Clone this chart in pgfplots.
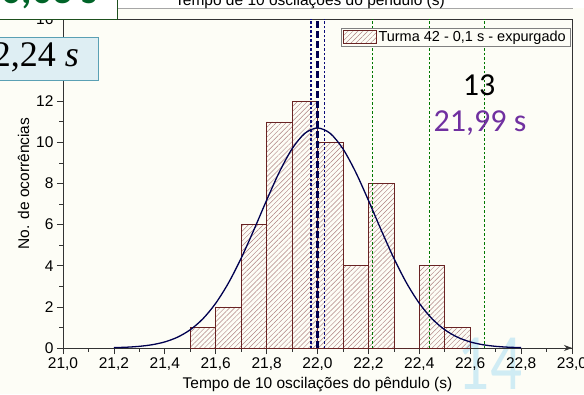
\documentclass[border=0pt]{standalone}
\usepackage{pgfplots}
\pgfplotsset{compat=1.18}
\usepackage{fontspec}
\setmainfont{Liberation Sans}
\newfontfamily\calibri{Carlito}
\newfontfamily\serifit{Liberation Serif}
\usetikzlibrary{patterns.meta,arrows.meta,backgrounds}
\definecolor{bg}{RGB}{253,253,246}
\definecolor{baredge}{RGB}{105,35,35}
\definecolor{hatch}{RGB}{175,130,130}
\definecolor{navy}{RGB}{0,0,80}
\definecolor{mblue}{RGB}{10,10,120}
\definecolor{dgreen}{RGB}{0,120,0}
\definecolor{purp}{RGB}{112,48,160}
\definecolor{boxblue}{RGB}{222,238,243}
\definecolor{boxedge}{RGB}{90,160,180}
\definecolor{ghost}{RGB}{208,236,244}
\definecolor{boxgreen}{RGB}{30,80,30}
\definecolor{txtgreen}{RGB}{0,100,40}
\begin{document}
\begin{tikzpicture}[x=1pt,y=1pt]
\begin{axis}[
  scale only axis, width=509pt, height=329pt,
  xmin=21, xmax=23, ymin=0, ymax=16, clip=false,
  xtick={21,21.2,21.4,21.6,21.8,22,22.2,22.4,22.6,22.8,23},
  minor x tick num=1,
  ytick={0,2,4,6,8,10,12,14,16},
  minor y tick num=1,
  tick align=outside, tick pos=left,
  major tick length=6pt, minor tick length=3.5pt,
  xticklabel style={/pgf/number format/.cd, use comma, fixed, fixed zerofill, precision=1},
  /pgf/number format/assume math mode=true,
  ticklabel style={font=\fontsize{15.5}{16}\selectfont},
  label style={font=\fontsize{15.5}{16}\selectfont},
  xlabel={Tempo de 10 oscilações do pêndulo (s)},
  ylabel={No. de ocorrências},
  axis line style={black!80, line width=0.7pt},
  every tick/.style={black!80, line width=0.7pt},
  legend style={at={(0.996,0.9726)}, anchor=north east, draw=gray, fill=bg,
    font=\fontsize{14.5}{16}\selectfont, inner xsep=2pt, inner ysep=1pt},
  legend cell align=left,
]
\coordinate (O) at (rel axis cs:0,0);
\addplot[ybar interval, draw=baredge, line width=0.6pt,
  pattern={Lines[angle=45,distance=3.5pt,line width=0.45pt]}, pattern color=hatch,
  legend image code/.code={\draw[draw=baredge, line width=0.6pt, pattern={Lines[angle=45,distance=3.5pt,line width=0.45pt]}, pattern color=hatch] (0pt,-6.5pt) rectangle (33pt,6.5pt);}]
  coordinates {(21.5,1) (21.6,2) (21.7,6) (21.8,11) (21.9,12) (22.0,10) (22.1,4) (22.2,8) (22.3,0) (22.4,4) (22.5,1) (22.6,1)};
\addlegendentry{Turma 42 - 0,1 s - expurgado}
\addplot[forget plot, draw=dgreen, line width=1pt, dash pattern=on 2.5pt off 2pt] coordinates {(22.215,0) (22.215,16)};
\addplot[forget plot, draw=dgreen, line width=1pt, dash pattern=on 2.5pt off 2pt] coordinates {(22.442,0) (22.442,16)};
\addplot[forget plot, draw=dgreen, line width=1pt, dash pattern=on 2.5pt off 2pt] coordinates {(22.658,0) (22.658,16)};
\addplot[forget plot, draw=mblue, line width=1.3pt, dash pattern=on 2.5pt off 2pt] coordinates {(21.975,0) (21.975,16)};
\addplot[forget plot, draw=mblue, line width=1.3pt, dash pattern=on 2.5pt off 2pt] coordinates {(22.027,0) (22.027,16)};
\addplot[forget plot, draw=navy, line width=2.6pt, dash pattern=on 7pt off 3pt] coordinates {(22.0,0) (22.0,16)};
\addplot[forget plot, draw=navy, line width=1.3pt, smooth] coordinates {
(21.2,0.018) (21.25,0.039) (21.3,0.081) (21.35,0.159) (21.4,0.296) (21.45,0.526)
(21.5,0.887) (21.55,1.424) (21.6,2.174) (21.65,3.159) (21.7,4.366) (21.75,5.742)
(21.8,7.184) (21.85,8.553) (21.9,9.686) (21.95,10.437) (22.0,10.7) (22.05,10.437)
(22.1,9.686) (22.15,8.553) (22.2,7.184) (22.25,5.742) (22.3,4.366) (22.35,3.159)
(22.4,2.174) (22.45,1.424) (22.5,0.887) (22.55,0.526) (22.6,0.296) (22.65,0.159)
(22.7,0.081) (22.75,0.039) (22.8,0.018)};
\draw[black!80, line width=0.7pt, -{Stealth[length=8pt,width=6pt]}] (axis cs:22.9,0) -- (axis cs:23.0,0);
\end{axis}
\begin{scope}[shift={(O)}]
\begin{scope}[shift={(-63,-46)}]
\begin{scope}[on background layer]
\fill[bg] (0,0) rectangle (584,394);
\fill[white] (117,386) rectangle (584,394);
\node[font=\calibri\fontsize{80}{80}\selectfont, text=ghost, anchor=north, inner sep=0, xscale=0.79] at (490,56) {14};
\end{scope}
\draw[gray!70, line width=0.6pt] (117,386) -- (573,386);
\node[anchor=base, font=\fontsize{15.5}{16}\selectfont] at (310,388) {Tempo de 10 oscilações do pêndulo (s)};
\draw[fill=white, draw=boxgreen, line width=0.8pt] (-2,375) rectangle (117,397);
\node[anchor=base east, inner sep=0, font=\calibri\bfseries\fontsize{40}{40}\selectfont, text=txtgreen] at (98,390) {0,03 s};
\draw[fill=boxblue, draw=boxedge, line width=0.8pt] (-2,314) rectangle (98,357);
\node[anchor=base east, inner sep=0, font=\serifit\fontsize{36}{36}\selectfont] at (79,327) {2,24 \itshape s};
\node[inner sep=0, font=\calibri\fontsize{32}{32}\selectfont] at (479,309) {13};
\node[anchor=base, inner sep=0, text=purp, font=\calibri\fontsize{32}{32}\selectfont] at (480,262) {21,99 s};
\pgfresetboundingbox
\path[use as bounding box] (0,0) rectangle (584,394);
\end{scope}
\end{scope}
\end{tikzpicture}
\end{document}
